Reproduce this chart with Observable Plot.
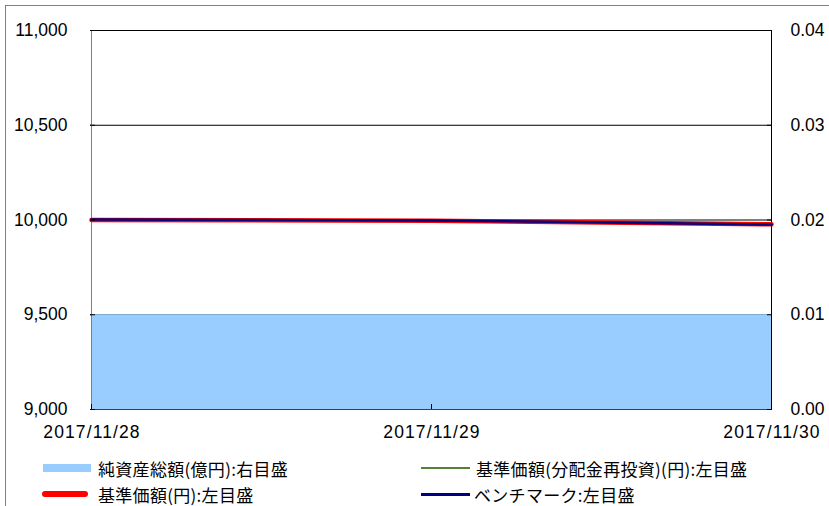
<!DOCTYPE html>
<html><head><meta charset="utf-8">
<script src="https://cdn.jsdelivr.net/npm/d3@7"></script>
<script src="https://cdn.jsdelivr.net/npm/@observablehq/plot@0.6"></script>
<style>
html,body{margin:0;padding:0;background:#fff;overflow:hidden;}
#wrap{position:relative;width:829px;height:506px;}
#frame{position:absolute;left:5px;top:5px;width:900px;height:600px;border:1px solid #808080;box-sizing:border-box;}
#chart{position:absolute;left:0;top:0;}
.leg{position:absolute;font-family:"Noto Sans CJK JP",sans-serif;font-size:17px;letter-spacing:0.3px;color:#000;display:flex;align-items:center;white-space:nowrap;}
.sw{display:inline-block;}
</style></head>
<body><div id="wrap"><div id="frame"></div><div id="chart"></div><div id="legend"></div></div>
<script>
const dates = ["2017/11/28", "2017/11/29", "2017/11/30"];
const netAssets = [0.01, 0.01, 0.01];          // 億円, right axis
const navReinvested = [10000, 9996, 9977];      // 円, left axis
const nav = [10000, 9996, 9977];                // 円, left axis
const benchmark = [10002, 9998, 9976];          // left axis
const leftTicks = [9000, 9500, 10000, 10500, 11000];
const rightTicks = [0, 0.01, 0.02, 0.03, 0.04];
const legendLabels = ["純資産総額(億円):右目盛", "基準価額(分配金再投資)(円):左目盛", "基準価額(円):左目盛", "ベンチマーク:左目盛"];

const leftMin = 9000, leftMax = 11000, rightMin = 0, rightMax = 0.04;
const toLeft = v => leftMin + (v - rightMin) / (rightMax - rightMin) * (leftMax - leftMin);

const rows = dates.map((d, i) => ({date: d, na: netAssets[i], navR: navReinvested[i], nav: nav[i], bm: benchmark[i]}));

const chart = Plot.plot({
  width: 829, height: 506,
  marginLeft: 90, marginRight: 58, marginTop: 30, marginBottom: 97,
  style: {fontFamily: "'Liberation Sans', Arial, sans-serif", fontSize: "17.5px", background: "transparent", color: "#000"},
  x: {type: "point", domain: dates, padding: 0},
  y: {domain: [leftMin, leftMax]},
  marks: [
    Plot.ruleY([9500, 10000, 10500], {stroke: "#000", strokeWidth: 1}),
    Plot.areaY(rows, {x: "date", y1: leftMin, y2: d => toLeft(d.na), fill: "#99ccff"}),
    Plot.ruleY([leftMax], {stroke: "#000"}),
    Plot.ruleY([leftMin], {stroke: "#404040"}),
    Plot.ruleX([dates[0]], {stroke: "#808080"}),
    Plot.ruleX([dates[dates.length - 1]], {stroke: "#000"}),
    Plot.line(rows, {x: "date", y: "navR", stroke: "#548235", strokeWidth: 2}),
    Plot.line(rows, {x: "date", y: "nav", stroke: "#ff0000", strokeWidth: 4.5}),
    Plot.line(rows, {x: "date", y: "bm", stroke: "#000080", strokeWidth: 2.5}),
    Plot.axisY({anchor: "left", ticks: leftTicks, tickFormat: d3.format(","), tickSize: -5, tickPadding: 28, label: null, stroke: "#000"}),
    Plot.axisY({anchor: "right", ticks: leftTicks, tickFormat: v => ((v - leftMin) / (leftMax - leftMin) * (rightMax - rightMin) + rightMin).toFixed(2), tickSize: -5, tickPadding: 24, label: null}),
    Plot.axisX({anchor: "bottom", ticks: dates, tickSize: -5, tickPadding: 21, label: null})
  ]
});
// widen date labels (reference uses a font with wider slashes)
d3.select(chart).selectAll("g[aria-label='x-axis tick label'] text")
  .attr("letter-spacing", "1.1px").attr("dx", "0.5px");
document.getElementById("chart").appendChild(chart);

const legendItems = [
  {label: legendLabels[0], color: "#99ccff", h: 8, left: 43, w: 48, gap: 7, top: 468},
  {label: legendLabels[1], color: "#548235", h: 2.5, left: 421, w: 49, gap: 6, top: 468},
  {label: legendLabels[2], color: "#ff0000", h: 5.5, left: 42, w: 46, gap: 10, top: 494},
  {label: legendLabels[3], color: "#000080", h: 3, left: 421, w: 49, gap: 4, top: 494}
];
const leg = document.getElementById("legend");
legendItems.forEach((it, i) => {
  const el = document.createElement("div");
  el.className = "leg";
  el.style.left = it.left + "px";
  el.style.top = (it.top - 12) + "px";
  el.style.height = "24px";
  const sw = document.createElement("span");
  sw.className = "sw";
  sw.style.width = it.w + "px";
  sw.style.height = it.h + "px";
  sw.style.background = it.color;
  sw.style.marginRight = it.gap + "px";
  if (i === 2) sw.style.borderRadius = "3px";
  el.appendChild(sw);
  const t = document.createElement("span");
  t.textContent = it.label;
  el.appendChild(t);
  leg.appendChild(el);
});
</script></body></html>
